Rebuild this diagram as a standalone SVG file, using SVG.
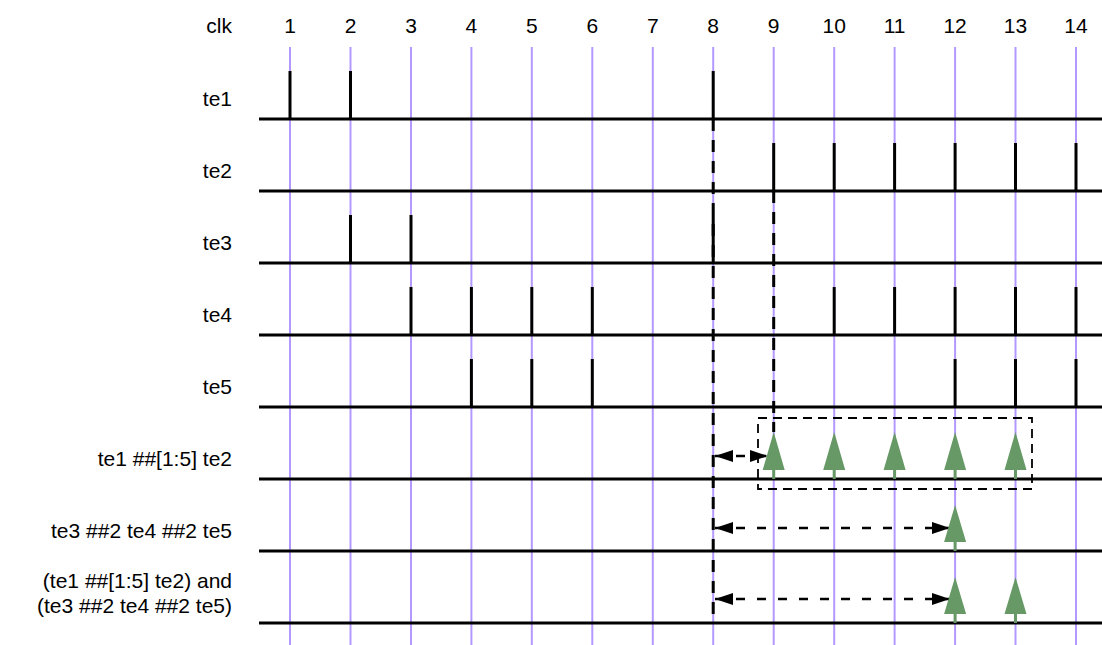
<svg xmlns="http://www.w3.org/2000/svg" width="1102" height="645" viewBox="0 0 1102 645">
<defs>
<style>
text{font-family:"Liberation Sans",Arial,sans-serif;font-size:21px;fill:#000}
.lbl{text-anchor:end}
.num{text-anchor:middle}
.grid{stroke:#b399ff;stroke-width:2}
.base{stroke:#000;stroke-width:3}
.pulse{stroke:#000;stroke-width:3}
.dash{stroke:#000;stroke-width:3;stroke-dasharray:12,9;fill:none}
.box{stroke:#000;stroke-width:1.8;stroke-dasharray:9,6;fill:none}
.arr{stroke:#000;stroke-width:2.5;stroke-dasharray:9,12;fill:none;marker-start:url(#ah);marker-end:url(#ah)}
.stem{stroke:#669966;stroke-width:3}
.tri{fill:#669966}
</style>
<marker id="ah" viewBox="0 0 18 12" refX="18" refY="6" markerWidth="18" markerHeight="12" markerUnits="userSpaceOnUse" orient="auto-start-reverse">
<path d="M0,0 L18,6 L0,12 Z" fill="#000"/>
</marker>
</defs>
<rect width="1102" height="645" fill="#fff"/>
<g id="grid">
<line class="grid" x1="290" y1="47" x2="290" y2="645"/>
<line class="grid" x1="350.5" y1="47" x2="350.5" y2="645"/>
<line class="grid" x1="411" y1="47" x2="411" y2="645"/>
<line class="grid" x1="471.4" y1="47" x2="471.4" y2="645"/>
<line class="grid" x1="531.8" y1="47" x2="531.8" y2="645"/>
<line class="grid" x1="592.3" y1="47" x2="592.3" y2="645"/>
<line class="grid" x1="652.8" y1="47" x2="652.8" y2="645"/>
<line class="grid" x1="713.2" y1="47" x2="713.2" y2="645"/>
<line class="grid" x1="773.7" y1="47" x2="773.7" y2="645"/>
<line class="grid" x1="834.2" y1="47" x2="834.2" y2="645"/>
<line class="grid" x1="894.6" y1="47" x2="894.6" y2="645"/>
<line class="grid" x1="955.1" y1="47" x2="955.1" y2="645"/>
<line class="grid" x1="1015.5" y1="47" x2="1015.5" y2="645"/>
<line class="grid" x1="1076" y1="47" x2="1076" y2="645"/>
</g>
<g id="header">
<text class="lbl" x="232" y="33">clk</text>
<text class="num" x="290" y="33">1</text>
<text class="num" x="350.5" y="33">2</text>
<text class="num" x="411" y="33">3</text>
<text class="num" x="471.4" y="33">4</text>
<text class="num" x="531.8" y="33">5</text>
<text class="num" x="592.3" y="33">6</text>
<text class="num" x="652.8" y="33">7</text>
<text class="num" x="713.2" y="33">8</text>
<text class="num" x="773.7" y="33">9</text>
<text class="num" x="834.2" y="33">10</text>
<text class="num" x="894.6" y="33">11</text>
<text class="num" x="955.1" y="33">12</text>
<text class="num" x="1015.5" y="33">13</text>
<text class="num" x="1076" y="33">14</text>
</g>
<g id="te1">
<text class="lbl" x="232" y="106">te1</text>
<line class="base" x1="259" y1="119" x2="1102" y2="119"/>
<line class="pulse" x1="290" y1="71" x2="290" y2="119"/>
<line class="pulse" x1="350.5" y1="71" x2="350.5" y2="119"/>
<line class="pulse" x1="713.2" y1="71" x2="713.2" y2="119"/>
</g>
<g id="te2">
<text class="lbl" x="232" y="178">te2</text>
<line class="base" x1="259" y1="191" x2="1102" y2="191"/>
<line class="pulse" x1="773.7" y1="143" x2="773.7" y2="191"/>
<line class="pulse" x1="834.2" y1="143" x2="834.2" y2="191"/>
<line class="pulse" x1="894.6" y1="143" x2="894.6" y2="191"/>
<line class="pulse" x1="955.1" y1="143" x2="955.1" y2="191"/>
<line class="pulse" x1="1015.5" y1="143" x2="1015.5" y2="191"/>
<line class="pulse" x1="1076" y1="143" x2="1076" y2="191"/>
</g>
<g id="te3">
<text class="lbl" x="232" y="250">te3</text>
<line class="base" x1="259" y1="263" x2="1102" y2="263"/>
<line class="pulse" x1="350.5" y1="215" x2="350.5" y2="263"/>
<line class="pulse" x1="411" y1="215" x2="411" y2="263"/>
<line class="pulse" x1="713.2" y1="215" x2="713.2" y2="263"/>
</g>
<g id="te4">
<text class="lbl" x="232" y="322">te4</text>
<line class="base" x1="259" y1="335" x2="1102" y2="335"/>
<line class="pulse" x1="411" y1="287" x2="411" y2="335"/>
<line class="pulse" x1="471.4" y1="287" x2="471.4" y2="335"/>
<line class="pulse" x1="531.8" y1="287" x2="531.8" y2="335"/>
<line class="pulse" x1="592.3" y1="287" x2="592.3" y2="335"/>
<line class="pulse" x1="834.2" y1="287" x2="834.2" y2="335"/>
<line class="pulse" x1="894.6" y1="287" x2="894.6" y2="335"/>
<line class="pulse" x1="955.1" y1="287" x2="955.1" y2="335"/>
<line class="pulse" x1="1015.5" y1="287" x2="1015.5" y2="335"/>
<line class="pulse" x1="1076" y1="287" x2="1076" y2="335"/>
</g>
<g id="te5">
<text class="lbl" x="232" y="394">te5</text>
<line class="base" x1="259" y1="407" x2="1102" y2="407"/>
<line class="pulse" x1="471.4" y1="359" x2="471.4" y2="407"/>
<line class="pulse" x1="531.8" y1="359" x2="531.8" y2="407"/>
<line class="pulse" x1="592.3" y1="359" x2="592.3" y2="407"/>
<line class="pulse" x1="955.1" y1="359" x2="955.1" y2="407"/>
<line class="pulse" x1="1015.5" y1="359" x2="1015.5" y2="407"/>
<line class="pulse" x1="1076" y1="359" x2="1076" y2="407"/>
</g>
<g id="seq1">
<text class="lbl" x="232" y="466">te1 ##[1:5] te2</text>
<line class="base" x1="259" y1="479" x2="1102" y2="479"/>
</g>
<g id="seq2">
<text class="lbl" x="232" y="538">te3 ##2 te4 ##2 te5</text>
<line class="base" x1="259" y1="551" x2="1102" y2="551"/>
</g>
<g id="seq3">
<text class="lbl" x="232" y="588">(te1 ##[1:5] te2) and</text>
<text class="lbl" x="232" y="613">(te3 ##2 te4 ##2 te5)</text>
<line class="base" x1="259" y1="623" x2="1102" y2="623"/>
</g>
<g id="connectors">
<line class="dash" x1="713.2" y1="119" x2="713.2" y2="623"/>
<line class="dash" x1="773.7" y1="191" x2="773.7" y2="432"/>
<rect class="box" x="758" y="418" width="274" height="71"/>
<line class="arr" x1="715" y1="456" x2="768" y2="456"/>
<line class="arr" x1="715" y1="528" x2="950" y2="528"/>
<line class="arr" x1="715" y1="599" x2="950" y2="599"/>
</g>
<g id="matches">
<line class="stem" x1="773.7" y1="466" x2="773.7" y2="479"/>
<polygon class="tri" points="773.7,432 784.7,470 762.7,470"/>
<line class="stem" x1="834.2" y1="466" x2="834.2" y2="479"/>
<polygon class="tri" points="834.2,432 845.2,470 823.2,470"/>
<line class="stem" x1="894.6" y1="466" x2="894.6" y2="479"/>
<polygon class="tri" points="894.6,432 905.6,470 883.6,470"/>
<line class="stem" x1="955.1" y1="466" x2="955.1" y2="479"/>
<polygon class="tri" points="955.1,432 966.1,470 944.1,470"/>
<line class="stem" x1="1015.5" y1="466" x2="1015.5" y2="479"/>
<polygon class="tri" points="1015.5,432 1026.5,470 1004.5,470"/>
<line class="stem" x1="955.1" y1="538" x2="955.1" y2="551"/>
<polygon class="tri" points="955.1,505 966.1,542 944.1,542"/>
<line class="stem" x1="955.1" y1="610" x2="955.1" y2="623"/>
<polygon class="tri" points="955.1,577 966.1,614 944.1,614"/>
<line class="stem" x1="1015.5" y1="610" x2="1015.5" y2="623"/>
<polygon class="tri" points="1015.5,577 1026.5,614 1004.5,614"/>
</g>
</svg>
